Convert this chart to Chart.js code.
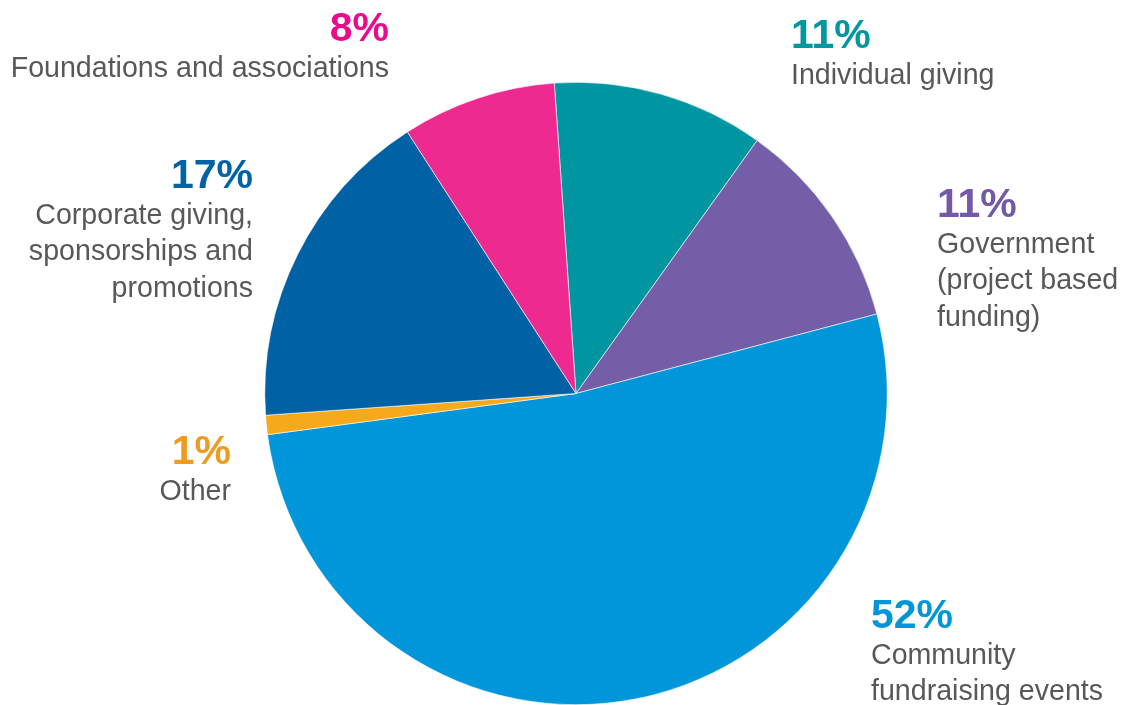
<!DOCTYPE html>
<html>
<head>
<meta charset="utf-8">
<script src="https://cdn.jsdelivr.net/npm/chart.js@4.4.1/dist/chart.umd.min.js"></script>
<style>
  html,body{margin:0;padding:0;background:#fff;}
  #wrap{width:1123px;height:705px;position:relative;}
</style>
</head>
<body>
<div id="wrap"><canvas id="chart" width="1123" height="705"></canvas></div>
<script>
// data, clockwise from the top
const CATEGORIES = [
  ["Individual giving"],
  ["Government", "(project based", "funding)"],
  ["Community", "fundraising events"],
  ["Other"],
  ["Corporate giving,", "sponsorships and", "promotions"],
  ["Foundations and associations"]
];
const SHARES = [11, 11, 52, 1, 17, 8];
const PCT_LABELS = ["11%", "11%", "52%", "1%", "17%", "8%"];

const SLICE_COLORS = ["#0096a1", "#745ea8", "#0096d9", "#f7a91c", "#0062a5", "#ee2a91"];
const TEXT_COLORS  = ["#0097a1", "#7359a8", "#0096d8", "#ef9b1f", "#0063a6", "#ec0a8c"];

// where each label block sits (text only)
const LABEL_POS = [
  {x: 791, y: 48,  align: "left"},
  {x: 937, y: 217, align: "left"},
  {x: 871, y: 628, align: "left"},
  {x: 231, y: 464, align: "right"},
  {x: 253, y: 188, align: "right"},
  {x: 389, y: 41,  align: "right"}
];

const labelPlugin = {
  id: "outsideLabels",
  afterDraw(c){
    const ctx = c.ctx;
    ctx.save();
    ctx.textBaseline = "alphabetic";
    LABEL_POS.forEach((p, i)=>{
      ctx.textAlign = p.align;
      ctx.fillStyle = TEXT_COLORS[i];
      ctx.font = "bold 41px 'Liberation Sans', Arial, sans-serif";
      ctx.fillText(PCT_LABELS[i], p.x, p.y);
      ctx.fillStyle = "#585858";
      ctx.font = "28.6px 'Liberation Sans', Arial, sans-serif";
      CATEGORIES[i].forEach((line, j)=>{
        ctx.fillText(line, p.x, p.y + 35.5 + j*36.5);
      });
    });
    ctx.restore();
  }
};

new Chart(document.getElementById("chart"), {
  type: "pie",
  data: {
    labels: CATEGORIES.map(l=>l.join(" ")),
    datasets: [{
      data: SHARES,
      backgroundColor: SLICE_COLORS,
      borderColor: "#ffffff",
      borderWidth: 0.6
    }]
  },
  options: {
    responsive: false,
    animation: false,
    rotation: -4,
    layout: {padding: {top: 82, bottom: 0, left: 264, right: 235}},
    plugins: {legend: {display: false}, tooltip: {enabled: false}}
  },
  plugins: [labelPlugin]
});
</script>
</body>
</html>
